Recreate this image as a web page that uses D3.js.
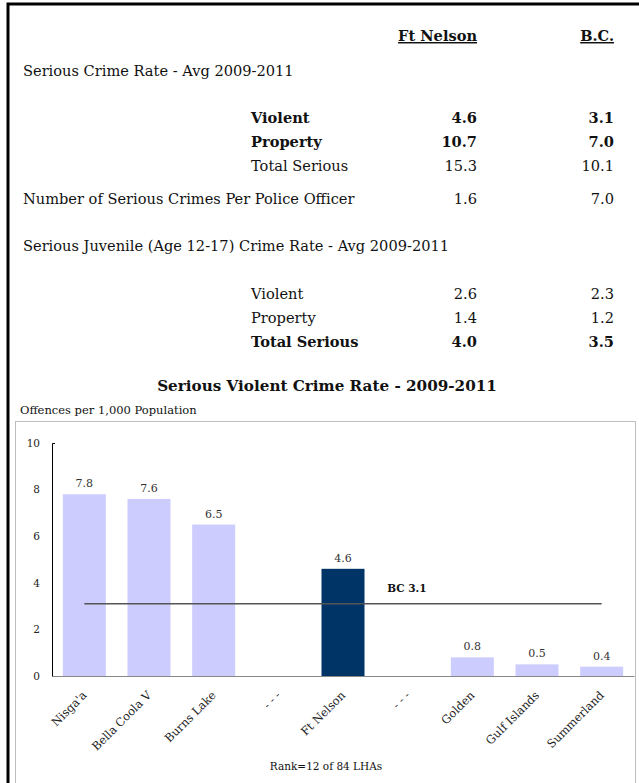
<!DOCTYPE html>
<html><head><meta charset="utf-8">
<script src="https://cdn.jsdelivr.net/npm/d3@7"></script>
<style>
html,body{margin:0;padding:0;background:#fff;}
svg{display:block;}
text{font-family:"DejaVu Serif",serif;fill:#111;}
</style></head>
<body><div id="chart"></div>
<script>
// ---- data ----
const colHeaders = ["Ft Nelson", "B.C."];
const section1Title = "Serious Crime Rate - Avg 2009-2011";
const crimeRows = ["Violent", "Property", "Total Serious"];
const crimeBold = [true, true, false];
const crimeFtNelson = ["4.6", "10.7", "15.3"];
const crimeBC = ["3.1", "7.0", "10.1"];
const perOfficerLabel = "Number of Serious Crimes Per Police Officer";
const perOfficerFtNelson = "1.6";
const perOfficerBC = "7.0";
const section2Title = "Serious Juvenile (Age 12-17) Crime Rate - Avg 2009-2011";
const juvRows = ["Violent", "Property", "Total Serious"];
const juvBold = [false, false, true];
const juvFtNelson = ["2.6", "1.4", "4.0"];
const juvBC = ["2.3", "1.2", "3.5"];

const chartTitle = "Serious Violent Crime Rate - 2009-2011";
const yAxisTitle = "Offences per 1,000 Population";
const categories = ["Nisga'a", "Bella Coola V", "Burns Lake", "- - -", "Ft Nelson", "- - -", "Golden", "Gulf Islands", "Summerland"];
const rates = [7.8, 7.6, 6.5, null, 4.6, null, 0.8, 0.5, 0.4];
const highlightCategory = "Ft Nelson";
const bcRate = 3.1;
const bcLabel = "BC 3.1";
const yTicks = [0, 2, 4, 6, 8, 10];
const rankNote = "Rank=12 of 84 LHAs";

// ---- drawing ----
const W = 639, H = 783;
const svg = d3.select("#chart").append("svg").attr("width", W).attr("height", H);

// outer black frame (cut off at right/bottom)
svg.append("path").attr("d", "M8,800 V4 H700").attr("fill", "none").attr("stroke", "#000").attr("stroke-width", 3);

const xNF = 477, xBC = 614, xSub = 251, xLeft = 23;
const fs = 14.6;
function t(x, y, s, opts = {}) {
  const el = svg.append("text").attr("x", x).attr("y", y).text(s)
    .style("font-size", (opts.size || fs) + "px")
    .attr("text-anchor", opts.anchor || "start");
  if (opts.bold) el.style("font-weight", "bold");
  if (opts.underline) el.style("text-decoration", "underline");
  if (opts.fill) el.style("fill", opts.fill);
  return el;
}
// headers
t(xNF, 41, colHeaders[0], {anchor: "end", bold: true, underline: true});
t(xBC, 41, colHeaders[1], {anchor: "end", bold: true, underline: true});
t(xLeft, 76, section1Title);
const crimeY = [123, 147, 171];
crimeRows.forEach((r, i) => {
  t(xSub, crimeY[i], r, {bold: crimeBold[i]});
  t(xNF, crimeY[i], crimeFtNelson[i], {anchor: "end", bold: crimeBold[i]});
  t(xBC, crimeY[i], crimeBC[i], {anchor: "end", bold: crimeBold[i]});
});
t(xLeft, 204, perOfficerLabel);
t(xNF, 204, perOfficerFtNelson, {anchor: "end"});
t(xBC, 204, perOfficerBC, {anchor: "end"});
t(xLeft, 251, section2Title);
const juvY = [299, 323, 347];
juvRows.forEach((r, i) => {
  t(xSub, juvY[i], r, {bold: juvBold[i]});
  t(xNF, juvY[i], juvFtNelson[i], {anchor: "end", bold: juvBold[i]});
  t(xBC, juvY[i], juvBC[i], {anchor: "end", bold: juvBold[i]});
});

// chart title
t(327, 391, chartTitle, {anchor: "middle", bold: true, size: 15.2});
t(20, 414, yAxisTitle, {size: 11.5});

// chart box
svg.append("rect").attr("x", 15.5).attr("y", 421.5).attr("width", 620).attr("height", 400)
  .attr("fill", "none").attr("stroke", "#bdbdbd").attr("stroke-width", 1);

const plot = {left: 52, right: 634, top: 443, bottom: 676};
const x = d3.scaleBand().domain(d3.range(categories.length)).range([plot.left, plot.right])
  .paddingInner(0.335).paddingOuter(0.1675);
const y = d3.scaleLinear().domain([0, 10]).range([plot.bottom, plot.top]);

// bars
const g = svg.append("g");
g.selectAll("rect.bar").data(rates.map((v, i) => ({v, i})).filter(d => d.v != null)).join("rect")
  .attr("class", "bar")
  .attr("x", d => x(d.i)).attr("width", x.bandwidth())
  .attr("y", d => y(d.v)).attr("height", d => y(0) - y(d.v))
  .attr("fill", d => categories[d.i] === highlightCategory ? "#003366" : "#ccccff");

// value labels
g.selectAll("text.val").data(rates.map((v, i) => ({v, i})).filter(d => d.v != null)).join("text")
  .attr("class", "val")
  .attr("x", d => x(d.i) + x.bandwidth() / 2).attr("y", d => y(d.v) - 7)
  .attr("text-anchor", "middle").style("font-size", "11px").style("fill", "#333")
  .text(d => d.v.toFixed(1));

// y axis
const yAxis = d3.axisLeft(y).tickValues(yTicks).tickSizeInner(0).tickSizeOuter(-3).tickPadding(12).tickFormat(d3.format("d"));
const ya = svg.append("g").attr("transform", `translate(${plot.left},0)`).call(yAxis);
ya.select(".domain").attr("stroke", "#000");
ya.selectAll("text").style("font-size", "10.5px").style("fill", "#222").style("font-family", "'DejaVu Serif',serif");

// x axis baseline
const xAxis = d3.axisBottom(x).tickSize(0).tickSizeOuter(0).tickFormat(i => categories[i]);
const xa = svg.append("g").attr("transform", `translate(0,${plot.bottom})`).call(xAxis);
xa.select(".domain").attr("stroke", "#888");
xa.selectAll("text")
  .style("font-size", "11.5px").style("fill", "#222").style("font-family", "'DejaVu Serif',serif")
  .attr("text-anchor", "end")
  .attr("x", 0).attr("y", 0).attr("dy", 0)
  .attr("transform", "translate(3,20) rotate(-45)");

// BC line
const firstC = x(0) + x.bandwidth() / 2, lastC = x(categories.length - 1) + x.bandwidth() / 2;
svg.append("line").attr("x1", firstC).attr("x2", lastC).attr("y1", y(bcRate)).attr("y2", y(bcRate))
  .attr("stroke", "#555").attr("stroke-width", 1.3);
t(x(5) + 1, y(bcRate) - 12, bcLabel, {bold: true, size: 10.5});

t(326, 770, rankNote, {anchor: "middle", size: 10.5});
</script></body></html>
